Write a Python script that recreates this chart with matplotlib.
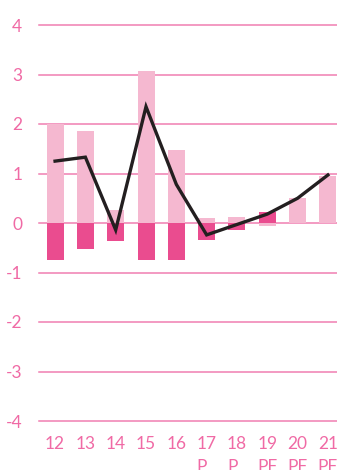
import matplotlib
matplotlib.use('Agg')
import matplotlib.pyplot as plt
import numpy as np

# categories (years, with provisional / forecast markers)
years = ['12', '13', '14', '15', '16', '17\nP', '18\nP', '19\nPF', '20\nPF', '21\nPF']

# contributions (pp)
light_vals = [2.00, 1.85, 0.26, 3.08, 1.48, 0.10, 0.12, -0.07, 0.50, 0.95]
dark_vals = [-0.75, -0.52, -0.37, -0.75, -0.75, -0.35, -0.15, 0.22, 0.0, 0.0]
total_vals = [1.25, 1.33, -0.14, 2.35, 0.78, -0.24, -0.03, 0.18, 0.50, 0.97]

y_ticks = [4, 3, 2, 1, 0, -1, -2, -3, -4]
y_labels = ['4', '3', '2', '1', '0', '-1', '-2', '-3', '-4']

LIGHT = '#f5b8d0'
DARK = '#ea4c8f'
GRID = '#f07fb1'
TEXT = '#f06aa5'
LINE = '#231f20'

plt.rcParams['font.family'] = ['Lato', 'DejaVu Sans']

fig = plt.figure(figsize=(3.37, 4.70), dpi=100)
ax = fig.add_axes([39 / 337, 1 - 421 / 470, 1 - 39 / 337, (421 - 25) / 470])

x = np.arange(len(years))
for y in y_ticks:
    ax.axhline(y, color=GRID, lw=1.1, zorder=1, clip_on=False)

ax.bar(x, light_vals, width=0.56, color=LIGHT, zorder=2)
ax.bar(x, dark_vals, width=0.56, color=DARK, zorder=3)
ax.plot(x, total_vals, color=LINE, lw=2.4, zorder=4, solid_joinstyle='miter')

ax.set_xlim(-0.53, 9.3)
ax.set_ylim(-4, 4)
ax.set_yticks(y_ticks)
ax.set_yticklabels(y_labels)
ax.set_xticks(x)
ax.set_xticklabels(years, linespacing=1.5, va='top', multialignment='left')
ax.tick_params(axis='both', length=0, colors=TEXT, labelsize=12.5)
ax.tick_params(axis='y', pad=12)
ax.tick_params(axis='x', pad=11)

for s in ax.spines.values():
    s.set_visible(False)

fig.savefig('out.png', dpi=100)
